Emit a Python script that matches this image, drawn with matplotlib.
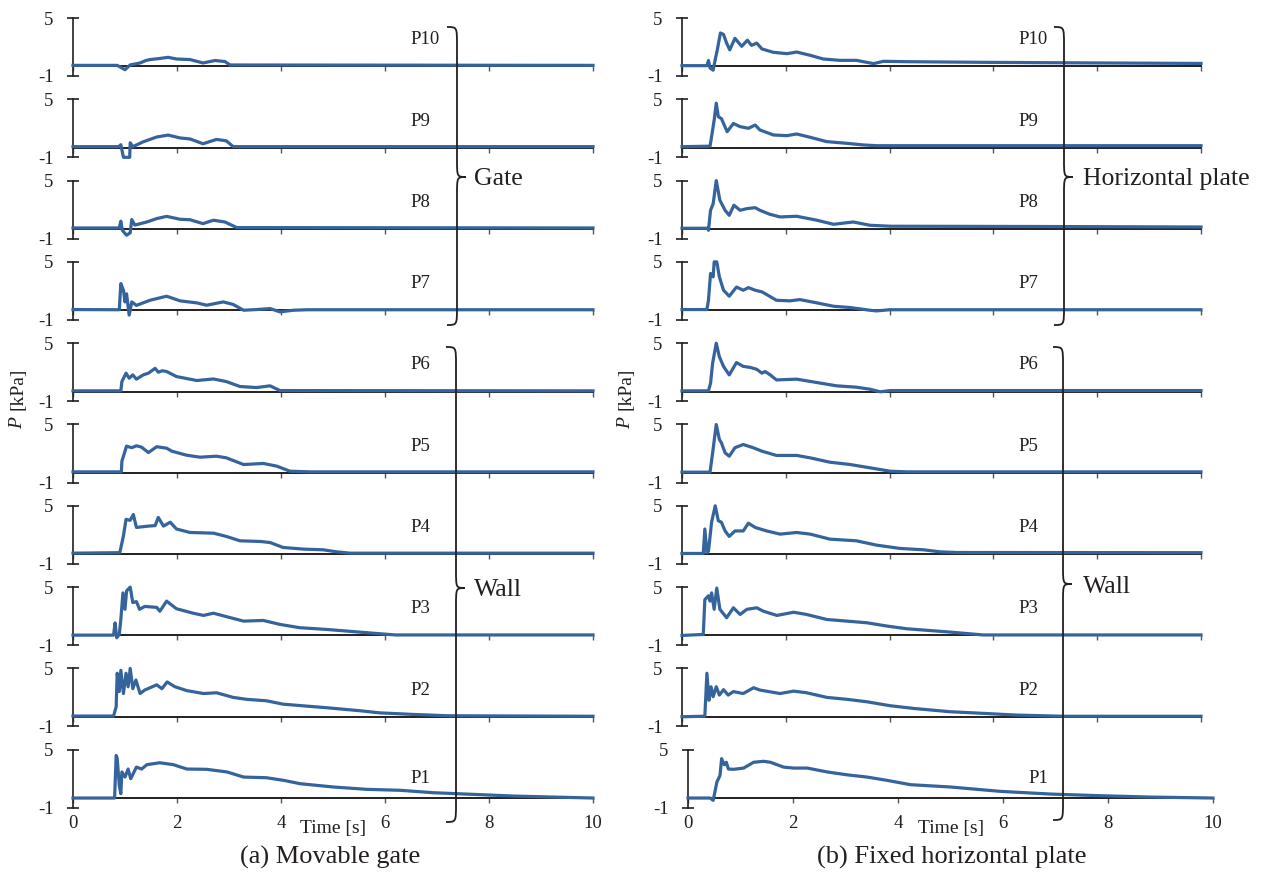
import numpy as np
import matplotlib.pyplot as plt
from matplotlib.path import Path
from matplotlib.patches import PathPatch

plt.rcParams['font.family'] = ['Liberation Serif', 'DejaVu Serif']
plt.rcParams['axes.unicode_minus'] = False

# ---- data: (time [s], pressure [kPa]) ----
# (a) movable gate
gate_p10 = [(0, 0.1), (0.85, 0.1), (1.0, -0.35), (1.1, 0.15), (1.2, 0.25), (1.29, 0.35), (1.4, 0.6),
            (1.48, 0.7), (1.65, 0.8), (1.83, 0.93), (1.99, 0.76), (2.25, 0.7), (2.5, 0.35), (2.73, 0.6),
            (2.92, 0.5), (3.02, 0.14), (10, 0.1)]
gate_p9 = [(0, 0.1), (0.88, 0.1), (0.92, 0.3), (0.97, -1.0), (1.09, -1.0), (1.1, 0.5), (1.15, 0.1),
           (1.35, 0.6), (1.61, 1.1), (1.83, 1.3), (2.06, 1.0), (2.25, 0.9), (2.5, 0.4), (2.76, 0.85),
           (2.95, 0.7), (3.08, 0.1), (10, 0.1)]
gate_p8 = [(0, 0.1), (0.89, 0.1), (0.92, 0.8), (0.95, -0.15), (1.03, -0.65), (1.1, -0.4), (1.13, 0.97),
           (1.19, 0.4), (1.42, 0.72), (1.61, 1.07), (1.8, 1.3), (2.06, 1.0), (2.25, 0.95), (2.5, 0.55),
           (2.7, 0.9), (2.92, 0.72), (3.15, 0.14), (10, 0.1)]
gate_p7 = [(0, 0.07), (0.89, 0.05), (0.92, 2.76), (0.97, 2.07), (1.0, 0.86), (1.03, 1.7), (1.08, -0.5),
           (1.13, 0.86), (1.22, 0.5), (1.48, 1.03), (1.8, 1.45), (2.06, 0.97), (2.38, 0.76), (2.57, 0.52),
           (2.89, 0.86), (3.08, 0.6), (3.28, 0.0), (3.53, 0.07), (3.79, 0.17), (3.98, -0.17), (4.24, 0.0),
           (4.5, 0.05), (10, 0.05)]
gate_p6 = [(0, 0.07), (0.92, 0.07), (0.94, 1.03), (1.02, 1.9), (1.08, 1.38), (1.15, 1.72), (1.22, 1.28),
           (1.35, 1.72), (1.45, 1.9), (1.58, 2.4), (1.64, 2.0), (1.72, 2.15), (1.8, 2.07), (1.99, 1.55),
           (2.38, 1.14), (2.7, 1.3), (2.95, 1.03), (3.21, 0.52), (3.53, 0.41), (3.79, 0.59), (3.98, 0.1),
           (10, 0.07)]
gate_p5 = [(0, 0.1), (0.93, 0.1), (0.94, 1.2), (1.03, 2.76), (1.13, 2.6), (1.22, 2.8), (1.32, 2.65),
           (1.45, 2.1), (1.61, 2.7), (1.8, 2.55), (1.9, 2.24), (2.18, 1.83), (2.44, 1.62), (2.76, 1.72),
           (2.95, 1.55), (3.28, 0.86), (3.66, 0.97), (3.92, 0.69), (4.17, 0.17), (4.56, 0.1), (10, 0.1)]
gate_p4 = [(0, 0.1), (0.9, 0.15), (0.97, 1.9), (1.02, 3.6), (1.1, 3.5), (1.16, 4.1), (1.22, 2.76),
           (1.45, 2.9), (1.58, 2.95), (1.64, 3.8), (1.74, 2.9), (1.87, 3.3), (1.99, 2.6), (2.25, 2.24),
           (2.7, 2.17), (2.95, 1.83), (3.21, 1.38), (3.6, 1.31), (3.79, 1.2), (4.04, 0.69), (4.43, 0.52),
           (4.81, 0.45), (5.07, 0.24), (5.33, 0.1), (10, 0.1)]
gate_p3 = [(0, 0.03), (0.78, 0.03), (0.81, 1.3), (0.84, -0.24), (0.89, 0.1), (0.92, 1.65), (0.96, 4.4),
           (1.0, 2.7), (1.03, 4.6), (1.1, 5.0), (1.15, 3.4), (1.22, 3.5), (1.28, 2.7), (1.38, 3.0),
           (1.61, 2.9), (1.67, 2.5), (1.8, 3.55), (1.99, 2.76), (2.31, 2.3), (2.51, 2.07), (2.7, 2.3),
           (2.96, 1.93), (3.28, 1.48), (3.66, 1.55), (3.98, 1.14), (4.36, 0.8), (4.88, 0.62), (5.84, 0.2),
           (6.2, 0.05), (10, 0.05)]
gate_p2 = [(0, 0.07), (0.78, 0.07), (0.83, 1.03), (0.85, 4.5), (0.89, 2.6), (0.92, 4.8), (0.97, 2.4),
           (1.02, 4.5), (1.06, 3.1), (1.1, 5.0), (1.15, 2.9), (1.21, 3.8), (1.29, 2.4), (1.38, 2.76),
           (1.61, 3.3), (1.71, 2.9), (1.81, 3.6), (1.96, 3.1), (2.19, 2.7), (2.51, 2.4), (2.76, 2.48),
           (3.08, 2.0), (3.34, 1.8), (3.72, 1.65), (4.04, 1.3), (4.49, 1.1), (4.88, 0.93), (5.52, 0.62),
           (5.9, 0.4), (6.5, 0.25), (7.2, 0.1), (10, 0.05)]
gate_p1 = [(0, 0.0), (0.8, 0.0), (0.83, 4.4), (0.85, 4.1), (0.89, 1.3), (0.92, 0.45), (0.94, 2.7),
           (1.0, 2.17), (1.06, 3.0), (1.11, 2.0), (1.22, 3.2), (1.32, 3.0), (1.42, 3.45), (1.67, 3.65),
           (1.93, 3.45), (2.19, 3.0), (2.57, 2.97), (2.96, 2.7), (3.28, 2.17), (3.72, 2.1), (4.05, 1.83),
           (4.37, 1.48), (5.01, 1.14), (5.65, 0.9), (6.29, 0.8), (6.93, 0.55), (7.38, 0.45), (8.5, 0.2),
           (10, 0.0)]

# (b) fixed horizontal plate
plate_p10 = [(0, 0.07), (0.48, 0.07), (0.51, 0.6), (0.54, -0.17), (0.6, -0.4), (0.64, 0.7), (0.68, 1.7),
             (0.74, 3.45), (0.8, 3.3), (0.86, 2.4), (0.92, 1.7), (1.02, 2.9), (1.15, 2.07), (1.26, 2.7),
             (1.34, 2.17), (1.44, 2.4), (1.54, 1.8), (1.76, 1.45), (2.02, 1.31), (2.21, 1.48), (2.47, 1.14),
             (2.72, 0.76), (3.04, 0.62), (3.36, 0.62), (3.69, 0.28), (3.88, 0.52), (4.33, 0.48),
             (5.93, 0.41), (8, 0.35), (10, 0.3)]
plate_p9 = [(0, 0.1), (0.54, 0.15), (0.57, 1.14), (0.62, 2.86), (0.66, 4.6), (0.7, 3.2), (0.76, 3.0),
            (0.8, 2.5), (0.87, 1.65), (0.99, 2.5), (1.12, 2.17), (1.28, 2.0), (1.41, 2.34), (1.5, 1.83),
            (1.76, 1.31), (2.02, 1.24), (2.21, 1.41), (2.47, 1.07), (2.79, 0.62), (3.17, 0.45), (3.49, 0.28),
            (3.75, 0.2), (10, 0.2)]
plate_p8 = [(0, 0.07), (0.5, 0.07), (0.51, -0.14), (0.55, 1.93), (0.6, 2.6), (0.66, 5.0), (0.73, 2.97),
            (0.83, 1.93), (0.91, 1.41), (1.0, 2.45), (1.12, 1.93), (1.25, 2.1), (1.41, 2.2), (1.5, 1.93),
            (1.69, 1.52), (1.89, 1.24), (2.21, 1.31), (2.6, 0.9), (2.92, 0.48), (3.3, 0.72), (3.62, 0.38),
            (4.01, 0.28), (7, 0.25), (10, 0.2)]
plate_p7 = [(0, 0.07), (0.48, 0.07), (0.51, 1.03), (0.55, 3.8), (0.6, 3.45), (0.62, 5.0), (0.67, 5.0),
            (0.72, 3.45), (0.8, 2.07), (0.91, 1.45), (1.05, 2.4), (1.18, 2.07), (1.28, 2.34), (1.41, 2.07),
            (1.54, 1.9), (1.6, 1.72), (1.82, 1.03), (2.08, 0.97), (2.27, 1.1), (2.6, 0.76), (2.92, 0.41),
            (3.24, 0.28), (3.62, 0.0), (3.75, -0.07), (4.0, 0.05), (10, 0.05)]
plate_p6 = [(0, 0.07), (0.51, 0.07), (0.55, 0.86), (0.59, 2.93), (0.66, 5.0), (0.72, 3.6), (0.8, 2.6),
            (0.91, 1.72), (1.05, 3.0), (1.18, 2.6), (1.31, 2.5), (1.44, 2.3), (1.54, 1.9), (1.6, 2.07),
            (1.7, 1.72), (1.82, 1.2), (2.21, 1.28), (2.6, 0.93), (2.98, 0.59), (3.36, 0.45), (3.62, 0.24),
            (3.82, -0.03), (4.01, 0.1), (10, 0.1)]
plate_p5 = [(0, 0.07), (0.54, 0.07), (0.59, 2.07), (0.66, 5.0), (0.72, 3.45), (0.76, 3.1), (0.83, 2.07),
            (0.91, 1.72), (1.02, 2.6), (1.18, 2.93), (1.37, 2.6), (1.54, 2.24), (1.82, 1.8), (2.21, 1.8),
            (2.47, 1.55), (2.85, 1.1), (3.24, 0.86), (3.62, 0.52), (4.01, 0.17), (4.33, 0.1), (10, 0.1)]
plate_p4 = [(0, 0.07), (0.41, 0.07), (0.44, 2.6), (0.48, 0.15), (0.51, 0.3), (0.57, 3.3), (0.64, 5.0),
            (0.7, 3.45), (0.76, 3.3), (0.83, 2.4), (0.91, 1.83), (1.02, 2.4), (1.18, 2.4), (1.28, 3.2),
            (1.41, 2.76), (1.63, 2.4), (1.89, 2.07), (2.21, 2.24), (2.47, 2.07), (2.85, 1.55), (3.36, 1.38),
            (3.75, 0.93), (4.2, 0.59), (4.65, 0.45), (4.97, 0.24), (5.29, 0.17), (10, 0.15)]
plate_p3 = [(0, 0.0), (0.41, 0.1), (0.44, 3.7), (0.51, 4.1), (0.54, 3.55), (0.57, 4.4), (0.62, 2.7),
            (0.67, 4.9), (0.73, 2.7), (0.86, 1.83), (0.99, 2.86), (1.12, 2.17), (1.25, 2.7), (1.44, 2.86),
            (1.57, 2.5), (1.83, 2.07), (2.15, 2.4), (2.4, 2.17), (2.79, 1.65), (3.18, 1.48), (3.56, 1.31),
            (3.95, 0.97), (4.33, 0.69), (5.16, 0.35), (5.8, 0.05), (10, 0.05)]
plate_p2 = [(0, 0.0), (0.44, 0.05), (0.48, 4.5), (0.52, 1.7), (0.56, 3.1), (0.6, 2.07), (0.66, 3.1),
            (0.72, 2.24), (0.8, 2.8), (0.89, 2.24), (0.99, 2.6), (1.18, 2.4), (1.38, 3.0), (1.5, 2.76),
            (1.89, 2.4), (2.15, 2.65), (2.4, 2.48), (2.79, 2.0), (3.18, 1.8), (3.56, 1.55), (4.01, 1.14),
            (4.46, 0.86), (5.16, 0.52), (5.8, 0.35), (6.45, 0.17), (7.35, 0.05), (10, 0.05)]
plate_p1 = [(0, 0.0), (0.42, 0.0), (0.48, -0.24), (0.55, 1.65), (0.61, 2.34), (0.64, 4.07), (0.69, 3.45),
            (0.73, 3.7), (0.77, 3.0), (0.87, 2.97), (1.06, 3.1), (1.25, 3.7), (1.44, 3.8), (1.57, 3.7),
            (1.82, 3.2), (2.01, 3.1), (2.27, 3.1), (2.65, 2.7), (3.03, 2.4), (3.41, 2.17), (3.79, 1.83),
            (4.24, 1.38), (5.0, 1.14), (5.95, 0.69), (6.91, 0.41), (7.86, 0.24), (8.81, 0.1), (10, 0.0)]

gate_series = [gate_p10, gate_p9, gate_p8, gate_p7, gate_p6, gate_p5, gate_p4, gate_p3, gate_p2, gate_p1]
plate_series = [plate_p10, plate_p9, plate_p8, plate_p7, plate_p6, plate_p5, plate_p4, plate_p3, plate_p2, plate_p1]
sensor_names = ['P10', 'P9', 'P8', 'P7', 'P6', 'P5', 'P4', 'P3', 'P2', 'P1']
x_ticks = [0, 2, 4, 6, 8, 10]

W, H = 1268, 877
fig = plt.figure(figsize=(W / 100, H / 100), dpi=100)

line_color = '#35639c'
ink = '#231f20'


def px_rect(x0, ytop, w, h):
    return [x0 / W, 1 - (ytop + h) / H, w / W, h / H]


def fig_xy(x, y):
    return (x / W, 1 - y / H)


def draw_column(series, left, width, left_last, width_last):
    for i, (data, name) in enumerate(zip(series, sensor_names)):
        top = 18 + 81.3 * i
        last = i == len(series) - 1
        x0, w = (left_last, width_last) if last else (left, width)
        ax = fig.add_axes(px_rect(x0, top, w, 58))
        ax.patch.set_visible(False)
        t, p = zip(*data)
        ax.plot(t, p, color=line_color, lw=2.3, clip_on=False, zorder=3)
        ax.set_xlim(0, 10)
        ax.set_ylim(-1, 5)
        ax.spines['top'].set_visible(False)
        ax.spines['right'].set_visible(False)
        ax.spines['bottom'].set_position(('data', 0))
        ax.spines['bottom'].set_linewidth(1.4)
        ax.spines['bottom'].set_color(ink)
        ax.spines['left'].set_linewidth(1.2)
        ax.spines['left'].set_color(ink)
        ax.set_yticks([-1, 5])
        ax.set_yticklabels(['-1', '5'])
        ax.tick_params(axis='y', direction='inout', length=8, width=1.2, color=ink,
                       labelsize=13.5, labelcolor=ink, pad=10)
        ax.set_xticks(x_ticks)
        ax.tick_params(axis='x', direction='out', length=3.5, width=1.0, color='#555555',
                       labelsize=13.5, labelcolor=ink, pad=9)
        if not last:
            ax.set_xticklabels([])
        ax.text(6.48, 2.0 if last else 2.75, name, fontsize=13.5, color=ink, ha='left', va='center')


def brace(xl, ytop, ytip, ybot, hook=10, tip=9, r=18):
    pts = [(xl - hook, ytop), (xl, ytop), (xl, ytop), (xl, ytop + r),
           (xl, ytip - r), (xl, ytip), (xl, ytip), (xl + tip, ytip),
           (xl, ytip), (xl, ytip), (xl, ytip + r),
           (xl, ybot - r), (xl, ybot), (xl, ybot), (xl - hook, ybot)]
    codes = [Path.MOVETO, Path.CURVE4, Path.CURVE4, Path.CURVE4, Path.LINETO,
             Path.CURVE4, Path.CURVE4, Path.CURVE4, Path.CURVE4, Path.CURVE4, Path.CURVE4,
             Path.LINETO, Path.CURVE4, Path.CURVE4, Path.CURVE4]
    path = Path([fig_xy(x, y) for x, y in pts], codes)
    fig.add_artist(PathPatch(path, fill=False, lw=1.3, edgecolor=ink, transform=fig.transFigure))


draw_column(gate_series, 73, 520, 73, 520)
draw_column(plate_series, 682, 519, 688, 525)

# braces and group labels
brace(457, 27, 177, 325)
brace(456, 347, 588, 822)
brace(1064, 27, 177, 325)
brace(1063, 347, 584, 820)
fig.text(*fig_xy(474, 179), 'Gate', fontsize=18.5, color=ink, ha='left', va='center')
fig.text(*fig_xy(474, 590), 'Wall', fontsize=18.5, color=ink, ha='left', va='center')
fig.text(*fig_xy(1083, 179), 'Horizontal plate', fontsize=18.5, color=ink, ha='left', va='center')
fig.text(*fig_xy(1083, 587), 'Wall', fontsize=18.5, color=ink, ha='left', va='center')

# axis labels
for xc in (18, 626):
    fig.text(*fig_xy(xc, 423), 'P', fontsize=14, style='italic', color=ink, rotation=90,
             ha='center', va='center')
    fig.text(*fig_xy(xc, 389), '[kPa]', fontsize=14, color=ink, rotation=90,
             ha='center', va='center')
fig.text(*fig_xy(333, 828), 'Time [s]', fontsize=14, color=ink, ha='center', va='center')
fig.text(*fig_xy(951, 828), 'Time [s]', fontsize=14, color=ink, ha='center', va='center')

fig.text(*fig_xy(330, 857), '(a) Movable gate', fontsize=19, color=ink, ha='center', va='center')
fig.text(*fig_xy(952, 857), '(b) Fixed horizontal plate', fontsize=19, color=ink, ha='center', va='center')

fig.savefig('out.png', dpi=100)
